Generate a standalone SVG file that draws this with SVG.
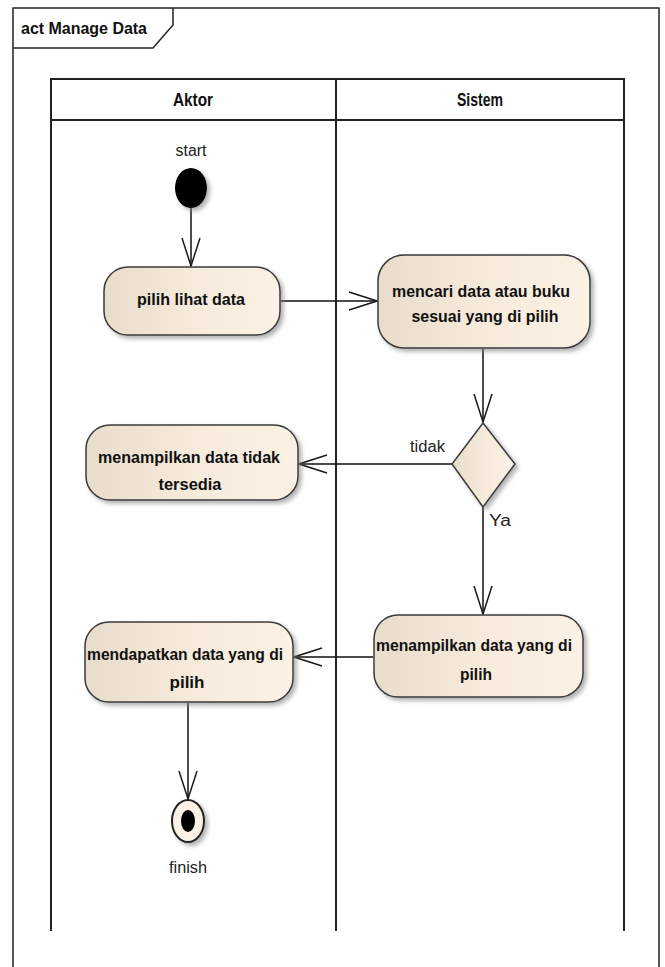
<svg xmlns="http://www.w3.org/2000/svg" width="665" height="967" viewBox="0 0 665 967">
  <defs>
    <linearGradient id="actFill" x1="0" y1="0" x2="1" y2="0">
      <stop offset="0" stop-color="#e8ddcc"/>
      <stop offset="0.5" stop-color="#f6ebdb"/>
      <stop offset="1" stop-color="#fbf1e4"/>
    </linearGradient>
    <filter id="shadow" x="-20%" y="-20%" width="140%" height="150%">
      <feDropShadow dx="3" dy="3" stdDeviation="2" flood-color="#808080" flood-opacity="0.6"/>
    </filter>
    <marker id="openArrow" markerUnits="userSpaceOnUse" markerWidth="32" markerHeight="24" viewBox="-30 -12 32 24" refX="0" refY="0" orient="auto">
      <path d="M-28,-9 L0,0 L-28,9" fill="none" stroke="#1a1a1a" stroke-width="1.5"/>
    </marker>
  </defs>
  <style>
    .frame { fill: none; stroke: #222; stroke-width: 1.5; }
    .lane { fill: none; stroke: #222; stroke-width: 2; }
    .action { fill: url(#actFill); stroke: #3a3a3a; stroke-width: 1.5; filter: url(#shadow); }
    .flow { fill: none; stroke: #111; stroke-width: 1.5; marker-end: url(#openArrow); }
    .title { font-family: "Liberation Sans", Arial, sans-serif; font-weight: bold; font-size: 16px; fill: #111; }
    .head { font-family: "Liberation Sans", Arial, sans-serif; font-weight: bold; font-size: 18px; fill: #111; text-anchor: middle; }
    .label { font-family: "Liberation Sans", Arial, sans-serif; font-weight: bold; font-size: 16px; fill: #111; text-anchor: middle; }
    .note { font-family: "Liberation Sans", Arial, sans-serif; font-size: 16px; fill: #222; }
  </style>

  <rect width="665" height="967" fill="#ffffff"/>

  <!-- diagram frame with name tab -->
  <g id="frame">
    <path class="frame" d="M13,1000 L13,8 L659,8 L659,1000"/>
    <path class="frame" d="M13,48 L153,48 L173,25 L173,8"/>
    <text class="title" x="21" y="34" textLength="126" lengthAdjust="spacingAndGlyphs">act Manage Data</text>
  </g>

  <!-- swimlanes -->
  <g id="lanes">
    <rect class="lane" x="51" y="79" width="573" height="41"/>
    <line class="lane" x1="336" y1="79" x2="336" y2="931"/>
    <line class="lane" x1="51" y1="120" x2="51" y2="931"/>
    <line class="lane" x1="624" y1="120" x2="624" y2="931"/>
    <text class="head" x="193" y="106" textLength="40" lengthAdjust="spacingAndGlyphs">Aktor</text>
    <text class="head" x="480" y="106" textLength="46" lengthAdjust="spacingAndGlyphs">Sistem</text>
  </g>

  <!-- connectors -->
  <g id="connectors">
    <line class="flow" x1="191" y1="208" x2="191" y2="266"/>
    <line class="flow" x1="281" y1="301" x2="377" y2="301"/>
    <line class="flow" x1="483" y1="349" x2="483" y2="422"/>
    <line class="flow" x1="452" y1="464" x2="299" y2="464"/>
    <line class="flow" x1="483" y1="507" x2="483" y2="614"/>
    <line class="flow" x1="373" y1="657" x2="294" y2="657"/>
    <line class="flow" x1="188" y1="703" x2="188" y2="799"/>
    <text class="note" x="410" y="452" textLength="35" lengthAdjust="spacingAndGlyphs">tidak</text>
    <text class="note" x="489" y="526" textLength="22" lengthAdjust="spacingAndGlyphs">Ya</text>
  </g>

  <g id="start">
    <ellipse cx="191" cy="188" rx="16" ry="20" fill="#000" filter="url(#shadow)"/>
    <text class="note" x="191" y="156" text-anchor="middle" textLength="31" lengthAdjust="spacingAndGlyphs">start</text>
  </g>

  <g id="pilihLihatData">
    <rect class="action" x="104" y="267" width="176" height="68" rx="24" ry="24"/>
    <text class="label" x="191" y="305" textLength="108" lengthAdjust="spacingAndGlyphs">pilih lihat data</text>
  </g>

  <g id="mencariData">
    <rect class="action" x="378" y="255" width="212" height="93" rx="26" ry="26"/>
    <text class="label" x="481" y="297" textLength="178" lengthAdjust="spacingAndGlyphs">mencari data atau buku</text>
    <text class="label" x="485" y="322" textLength="147" lengthAdjust="spacingAndGlyphs">sesuai yang di pilih</text>
  </g>

  <g id="decision">
    <polygon class="action" points="483,423 515,464 483,507 452,464"/>
  </g>

  <g id="dataTidakTersedia">
    <rect class="action" x="86" y="425" width="212" height="75" rx="24" ry="24"/>
    <text class="label" x="189" y="463" textLength="182" lengthAdjust="spacingAndGlyphs">menampilkan data tidak</text>
    <text class="label" x="190" y="490" textLength="63" lengthAdjust="spacingAndGlyphs">tersedia</text>
  </g>

  <g id="menampilkanData">
    <rect class="action" x="374" y="615" width="209" height="82" rx="24" ry="24"/>
    <text class="label" x="474" y="651" textLength="196" lengthAdjust="spacingAndGlyphs">menampilkan data yang di</text>
    <text class="label" x="476" y="680" textLength="32" lengthAdjust="spacingAndGlyphs">pilih</text>
  </g>

  <g id="mendapatkanData">
    <rect class="action" x="85" y="622" width="208" height="80" rx="24" ry="24"/>
    <text class="label" x="185" y="660" textLength="196" lengthAdjust="spacingAndGlyphs">mendapatkan data yang di</text>
    <text class="label" x="187" y="688" textLength="35" lengthAdjust="spacingAndGlyphs">pilih</text>
  </g>

  <g id="finish">
    <ellipse cx="188" cy="821" rx="16" ry="21" fill="#fbf1e4" stroke="#222" stroke-width="2" filter="url(#shadow)"/>
    <ellipse cx="188" cy="821" rx="7" ry="11" fill="#000"/>
    <text class="note" x="188" y="873" text-anchor="middle" textLength="38" lengthAdjust="spacingAndGlyphs">finish</text>
  </g>
</svg>
